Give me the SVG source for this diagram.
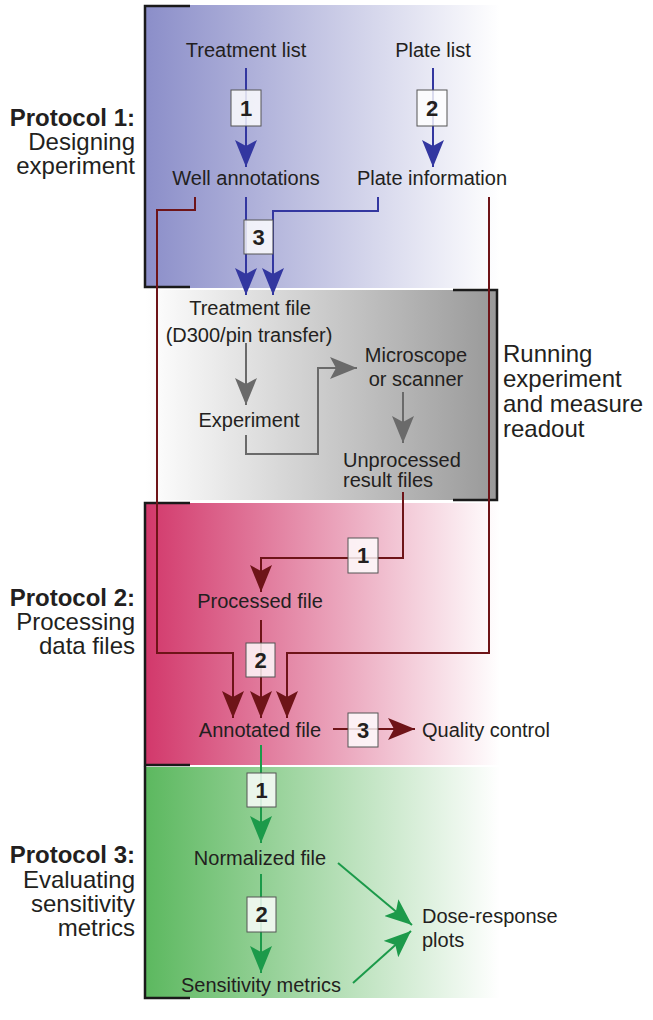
<svg xmlns="http://www.w3.org/2000/svg" width="653" height="1020" viewBox="0 0 653 1020">
<style>
text{font-family:"Liberation Sans",Arial,sans-serif;fill:#231f20}
.n{font-size:20px;text-anchor:middle}
.s{font-size:20px}
.lab{font-size:24px;text-anchor:end}
.b{font-weight:bold}
.num{font-size:22px;font-weight:bold;text-anchor:middle}
.box{fill:#ffffff;fill-opacity:0.82;stroke:#555;stroke-width:1}
.brk{fill:none;stroke:#1a1a1a;stroke-width:2.5}
.bl{fill:none;stroke:#3337a0;stroke-width:2}
.rd{fill:none;stroke:#6e1418;stroke-width:2}
.gy{fill:none;stroke:#6a6a6a;stroke-width:2}
.gn{fill:none;stroke:#1c9a4a;stroke-width:2}
</style>
<defs>
<linearGradient id="gBlue" x1="0" y1="0" x2="1" y2="0"><stop offset="0" stop-color="#8b8ec9"/><stop offset="1" stop-color="#ffffff"/></linearGradient>
<linearGradient id="gGray" x1="0" y1="0" x2="1" y2="0"><stop offset="0" stop-color="#ffffff"/><stop offset="1" stop-color="#999999"/></linearGradient>
<linearGradient id="gPink" x1="0" y1="0" x2="1" y2="0"><stop offset="0" stop-color="#d2386b"/><stop offset="1" stop-color="#ffffff"/></linearGradient>
<linearGradient id="gGreen" x1="0" y1="0" x2="1" y2="0"><stop offset="0" stop-color="#5cb85f"/><stop offset="1" stop-color="#ffffff"/></linearGradient>
<marker id="aB" viewBox="0 0 27 22" refX="27" refY="11" markerWidth="27" markerHeight="22" markerUnits="userSpaceOnUse" orient="auto"><path d="M0,0 L27,11 L0,22 L6,11 Z" fill="#3337a0"/></marker>
<marker id="aR" viewBox="0 0 27 22" refX="27" refY="11" markerWidth="27" markerHeight="22" markerUnits="userSpaceOnUse" orient="auto"><path d="M0,0 L27,11 L0,22 L6,11 Z" fill="#6e1418"/></marker>
<marker id="aG" viewBox="0 0 27 22" refX="27" refY="11" markerWidth="27" markerHeight="22" markerUnits="userSpaceOnUse" orient="auto"><path d="M0,0 L27,11 L0,22 L6,11 Z" fill="#6a6a6a"/></marker>
<marker id="aN" viewBox="0 0 27 22" refX="27" refY="11" markerWidth="27" markerHeight="22" markerUnits="userSpaceOnUse" orient="auto"><path d="M0,0 L27,11 L0,22 L6,11 Z" fill="#1c9a4a"/></marker>
</defs>
<rect width="653" height="1020" fill="#ffffff"/>
<g id="sections">
<rect x="145" y="5" width="355" height="283" fill="url(#gBlue)"/>
<rect x="145" y="290" width="352" height="210" fill="url(#gGray)"/>
<rect x="145" y="503" width="355" height="262" fill="url(#gPink)"/>
<rect x="145" y="767" width="355" height="231" fill="url(#gGreen)"/>
<path class="brk" d="M190,6 H145 V287 H190"/>
<path class="brk" d="M453,290 H497 V500 H453"/>
<path class="brk" d="M190,503 H145 V765 H190"/>
<path class="brk" d="M145,766 V998 H190"/>
</g>
<g id="section-labels">
<text class="lab b" x="135" y="126">Protocol 1:</text>
<text class="lab" x="135" y="150">Designing</text>
<text class="lab" x="135" y="174">experiment</text>
<text class="lab b" x="135" y="606">Protocol 2:</text>
<text class="lab" x="135" y="630">Processing</text>
<text class="lab" x="135" y="654">data files</text>
<text class="lab b" x="135" y="863">Protocol 3:</text>
<text class="lab" x="135" y="888">Evaluating</text>
<text class="lab" x="135" y="912">sensitivity</text>
<text class="lab" x="135" y="936">metrics</text>
<text style="font-size:24px" x="503" y="362">Running</text>
<text style="font-size:24px" x="503" y="387">experiment</text>
<text style="font-size:24px" x="503" y="412">and measure</text>
<text style="font-size:24px" x="503" y="437">readout</text>
</g>
<g id="connectors">
<path class="bl" d="M246,68 V167" marker-end="url(#aB)"/>
<path class="bl" d="M433,68 V167" marker-end="url(#aB)"/>
<path class="bl" d="M246,197 V295" marker-end="url(#aB)"/>
<path class="bl" d="M378,197 V211 H273 V295" marker-end="url(#aB)"/>
<path class="rd" d="M195,197 V210 H157 V653 H233 V718" marker-end="url(#aR)"/>
<path class="rd" d="M489,197 V653 H287 V718" marker-end="url(#aR)"/>
<path class="rd" d="M403,492 V558 H261 V592" marker-end="url(#aR)"/>
<path class="rd" d="M261,620 V718" marker-end="url(#aR)"/>
<path class="rd" d="M333,729 H415" marker-end="url(#aR)"/>
<path class="gy" d="M246,343 V405" marker-end="url(#aG)"/>
<path class="gy" d="M246,435 V454 H318 V368 H357" marker-end="url(#aG)"/>
<path class="gy" d="M403,392 V443" marker-end="url(#aG)"/>
<path class="gn" d="M261,745 V843" marker-end="url(#aN)"/>
<path class="gn" d="M261,874 V973" marker-end="url(#aN)"/>
<path class="gn" d="M338,863 L412,925" marker-end="url(#aN)"/>
<path class="gn" d="M353,983 L411,931" marker-end="url(#aN)"/>
</g>
<g id="step-boxes">
<g id="p1s1"><rect class="box" x="231" y="90" width="30" height="36"/><text class="num" x="246" y="116">1</text></g>
<g id="p1s2"><rect class="box" x="417" y="90" width="30" height="36"/><text class="num" x="432" y="116">2</text></g>
<g id="p1s3"><rect class="box" x="244" y="220" width="29" height="34"/><text class="num" x="258.5" y="245">3</text></g>
<g id="p2s1"><rect class="box" x="348" y="538" width="30" height="35"/><text class="num" x="363" y="563">1</text></g>
<g id="p2s2"><rect class="box" x="246" y="643" width="29" height="34"/><text class="num" x="260.5" y="668">2</text></g>
<g id="p2s3"><rect class="box" x="348" y="713" width="30" height="34"/><text class="num" x="363" y="738">3</text></g>
<g id="p3s1"><rect class="box" x="247" y="773" width="29" height="34"/><text class="num" x="261.5" y="798">1</text></g>
<g id="p3s2"><rect class="box" x="247" y="897" width="29" height="35"/><text class="num" x="261.5" y="922">2</text></g>
</g>
<g id="treatment-list"><text class="n" x="246" y="57">Treatment list</text></g>
<g id="plate-list"><text class="n" x="433" y="57">Plate list</text></g>
<g id="well-annotations"><text class="n" x="246" y="185">Well annotations</text></g>
<g id="plate-information"><text class="n" x="432" y="185">Plate information</text></g>
<g id="treatment-file"><text class="n" x="250" y="315">Treatment file</text><text class="n" x="249" y="342">(D300/pin transfer)</text></g>
<g id="experiment"><text class="n" x="249" y="427">Experiment</text></g>
<g id="microscope"><text class="n" x="416" y="362">Microscope</text><text class="n" x="416" y="386">or scanner</text></g>
<g id="unprocessed"><text class="s" x="343" y="467">Unprocessed</text><text class="s" x="343" y="487">result files</text></g>
<g id="processed-file"><text class="n" x="260" y="608">Processed file</text></g>
<g id="annotated-file"><text class="n" x="260" y="737">Annotated file</text></g>
<g id="quality-control"><text class="s" x="422" y="737">Quality control</text></g>
<g id="normalized-file"><text class="n" x="260" y="865">Normalized file</text></g>
<g id="sensitivity-metrics"><text class="n" x="261" y="992">Sensitivity metrics</text></g>
<g id="dose-response"><text class="s" x="422" y="923">Dose-response</text><text class="s" x="422" y="947">plots</text></g>
</svg>
